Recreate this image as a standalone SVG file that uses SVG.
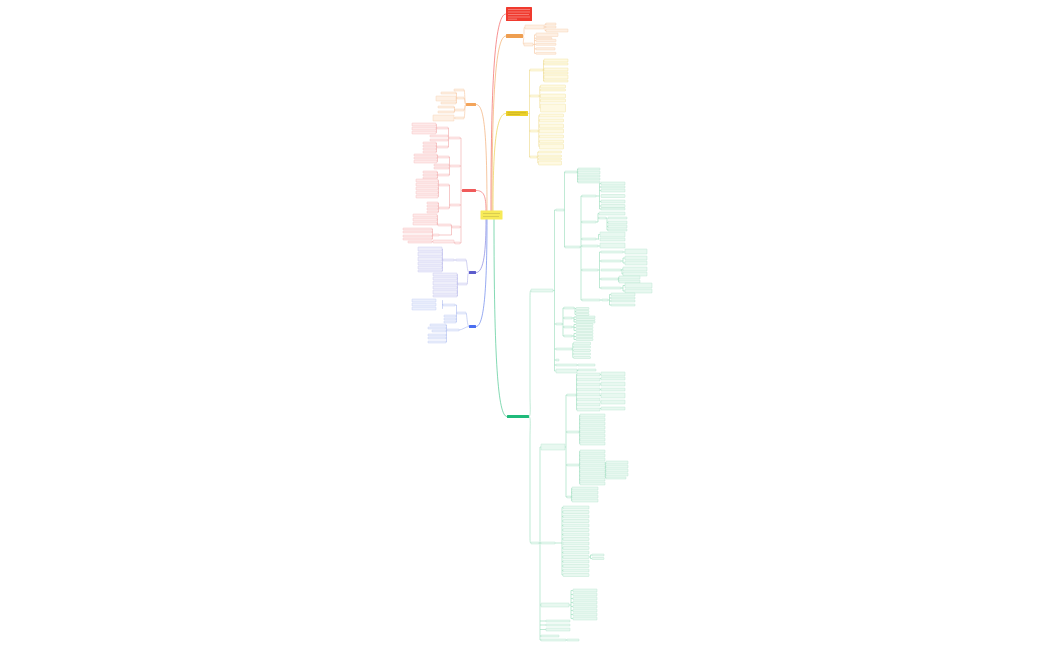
<svg xmlns="http://www.w3.org/2000/svg" width="1050" height="650" viewBox="0 0 1050 650">
<style>
rect{rx:.5px}
.o{fill:#fef0e4;stroke:#f6cba8;stroke-width:.4}
.y{fill:#fef9e2;stroke:#f0df96;stroke-width:.4}
.g{fill:#e8f8f0;stroke:#b0e3c9;stroke-width:.4}
.r{fill:#feeaea;stroke:#f3b8b8;stroke-width:.4}
.p{fill:#eeeefa;stroke:#c2c2ee;stroke-width:.4}
.b{fill:#ecf0fc;stroke:#bcc8f3;stroke-width:.4}
.c path{fill:none;stroke-width:.6}
.co{stroke:#f6c49c}.cy{stroke:#ecd886}.cg{stroke:#95dbb8}.cr{stroke:#f0a4a4}.cp{stroke:#b2b2ea}.cb{stroke:#aab9f0}
.main{fill:none;stroke-width:1}
.tl{stroke-width:.6;fill:none}
</style>
<rect width="1050" height="650" fill="#ffffff"/>
<g id="connectors" class="c">
<path class="main" stroke="#f04848" d="M491,211 C491,90 494,14 506,14"/>
<path class="main" stroke="#f0a050" d="M492,211 C492,90 496,36 506,36"/>
<path class="main" stroke="#e8c830" d="M493,211 C493,140 497,113.5 506,113.5"/>
<path class="main" stroke="#30c080" d="M494,219 C494,360 498,416.5 507,416.5"/>
<path class="main" stroke="#f0a060" d="M487,211 C487,130 484,104.5 476,104.5"/>
<path class="main" stroke="#f06060" d="M486,211 C486,196 484,190.5 476,190.5"/>
<path class="main" stroke="#7070d8" d="M486,219 C486,250 484,272.5 476,272.5"/>
<path class="main" stroke="#5070e8" d="M487,219 C487,290 484,326.5 476,326.5"/>
<path class="co" d="M523,36 C525,36 523,27 525,27 M523,36 C525,36 522,44.5 524,44.5 M544,27 H545 M545,24 V30.5 M545,24 H546 M545,27 H546 M545,30.5 H546 M533,44.5 H534.5 M534.5,34.8 V53.3 M534.5,34.8 H536 M534.5,38.2 H536 M534.5,40.5 H536 M534.5,44.3 H536 M534.5,48.8 H536 M534.5,53.3 H536"/>
<path class="cy" d="M528,113.5 H529.5 M529.5,70 V157 M529.5,70 H530 M529.5,96 H530 M529.5,131 H530 M529.5,157 H530 M543,70 H543.5 M543.5,60.5 V81 M543.5,60.5 H544 M543.5,64 H544 M543.5,69.5 H544 M543.5,73 H544 M543.5,77 H544 M543.5,81 H544 M539,96 H539.8 M539.8,86.5 V108 M539.8,86.5 H540.5 M539.8,90 H540.5 M539.8,96 H540.5 M539.8,100.5 H540.5 M539.8,108 H540.5 M538,131 H538.8 M538.8,115.5 V146.5 M538.8,115.5 H539.5 M538.8,120.5 H539.5 M538.8,126 H539.5 M538.8,136.5 H539.5 M538.8,141.5 H539.5 M538.8,146.5 H539.5 M537,157 H537.8 M537.8,152 V163 M537.8,152 H538.5 M537.8,156 H538.5 M537.8,159 H538.5 M537.8,163 H538.5"/>
<path class="cg" d="M529,416.5 C531,416.5 530,405 530,395 V300 C530,293 530,290.5 531,290.5 M529,416.5 C531,416.5 530,428 530,438 V535 C530,541 530,543 531,543"/>
<path class="cg" d="M553,290.5 H554.5 M554.5,210 V371 M554.5,210 H556 M554.5,324 H556 M554.5,349 H556 M554.5,360 H556 M554.5,365 H556 M554.5,371 H556"/>
<path class="cg" d="M564,210 H564.5 M564.5,172 V247 M564.5,172 H565 M564.5,247 H565 M577,172 H577.5 M577.5,169 V182 M577.5,169 H578 M577.5,172.5 H578 M577.5,176 H578 M577.5,179 H578 M577.5,182 H578"/>
<path class="cg" d="M580,247 H581 M581,196 V300 M581,196 H582 M581,222 H582 M581,239 H582 M581,246 H582 M581,270 H582 M581,300 H582"/>
<path class="cg" d="M596,196 H599.5 M599.5,183.5 V209 M599.5,183.5 H601 M599.5,187 H601 M599.5,190.5 H601 M599.5,201.5 H601 M599.5,206 H601 M599.5,209 H601 M596,222 H598 M598,213.5 V222 M598,213.5 H599 M598,218 H599 M606,218 H607 M607,218 V230 M607,222.5 H608 M607,226.5 H608 M607,230 H608 M596,239 H598.5 M598.5,234.5 V239.5 M598.5,234.5 H600 M598,246 H600"/>
<path class="cg" d="M598,270 H599.5 M599.5,252 V288 M599.5,252 H601 M599.5,261 H601 M599.5,279 H601 M599.5,288 H601 M623,252 H625 M621,261 H623 M623,258 V263 M623,258 H625 M623,263 H625 M621,270 H622 M622,269 V274 M622,269 H623 M622,274 H623 M618,279 H618.5 M618.5,277.5 V281.5 M618.5,277.5 H619 M618.5,281.5 H619 M621,288 H623 M623,285.5 V291 M623,285.5 H625 M623,291 H625"/>
<path class="cg" d="M600,300 H602 M608,300 H609.5 M609.5,294.5 V305 M609.5,294.5 H611 M609.5,298 H611 M609.5,301 H611 M609.5,305 H611"/>
<path class="cg" d="M562,324 H563 M563,308 V336 M563,308 H564 M563,318 H564 M563,327 H564 M563,336 H564 M574,308 H575 M575,308.5 V314.5 M575,308.5 H576 M575,311.5 H576 M575,314.5 H576 M572,318 H574 M574,317 V322 M574,317 H576 M574,319.5 H576 M574,322 H576 M572,327 H574 M574,324.5 V330.5 M574,324.5 H576 M574,327.5 H576 M574,330.5 H576 M572,336 H574 M574,333.5 V339.5 M574,333.5 H576 M574,336.5 H576 M574,339.5 H576"/>
<path class="cg" d="M572,349 H572.8 M572.8,343.5 V357.5 M572.8,343.5 H573.5 M572.8,347 H573.5 M572.8,350.5 H573.5 M572.8,354 H573.5 M572.8,357.5 H573.5 M577,365 H578 M577,371 H577.5 V370 H578"/>
<path class="cg" d="M539,543 H540 M540,447 V640 M540,447 H541 M540,543 H541 M540,605 H541 M540,636 H541 M540,640 H541 M540,621 H546 M540,625 H546 M540,629.5 H546"/>
<path class="cg" d="M565,447 H566 M566,395 V497 M566,395 H567 M566,432 H567 M566,465 H567 M566,497 H567 M576,395 H576.5 M576.5,374.5 V409.5 M576.5,374.5 H577 M576.5,379.5 H577 M576.5,384.5 H577 M576.5,389.5 H577 M576.5,399.5 H577 M576.5,404.5 H577 M576.5,409.5 H577 M600,374.5 H601 M600,378.5 H601 M600,384 H601 M600,389.5 H601 M600,395.5 H601 M600,402 H601 M600,408.5 H601"/>
<path class="cg" d="M579,432 H579.5 M579.5,415.5 V443.5 M579.5,415.5 H580 M579.5,419.5 H580 M579.5,423.5 H580 M579.5,427.5 H580 M579.5,431.5 H580 M579.5,435.5 H580 M579.5,439.5 H580 M579.5,443.5 H580 M579,465 H579.5 M579.5,451.5 V483.5 M579.5,451.5 H580 M579.5,455.5 H580 M579.5,459.5 H580 M579.5,463.5 H580 M579.5,467.5 H580 M579.5,471.5 H580 M579.5,475.5 H580 M579.5,479.5 H580 M579.5,483.5 H580 M605,467.5 H605.5 M605.5,462.5 V478 M605.5,462.5 H606 M605.5,466.5 H606 M605.5,470.5 H606 M605.5,474.5 H606 M605.5,478 H606 M571,497 H571.5 M571.5,488.5 V500.5 M571.5,488.5 H572 M571.5,492.5 H572 M571.5,496.5 H572 M571.5,500.5 H572"/>
<path class="cg" d="M555,543 H562 M562,507.5 V575 M562,507.5 H563 M562,512 H563 M562,516.5 H563 M562,521 H563 M562,525.5 H563 M562,530 H563 M562,534.5 H563 M562,539 H563 M562,548 H563 M562,552.5 H563 M562,557 H563 M562,561.5 H563 M562,566 H563 M562,570.5 H563 M562,575 H563 M589,557 H590.5 M590.5,555 V558.5 M590.5,555 H592 M590.5,558.5 H592"/>
<path class="cg" d="M569,605 H571 M571,590.5 V618.5 M571,590.5 H573 M571,594.5 H573 M571,598.5 H573 M571,602.5 H573 M571,606.5 H573 M571,610.5 H573 M571,614.5 H573 M571,618.5 H573 M566,640 H567"/>
<path class="co" d="M466,104.5 C464.5,104.5 465,90 464,90 M466,104.5 C464.5,104.5 465,98 464,98 M466,104.5 C464.5,104.5 465,110 464,110 M466,104.5 C464.5,104.5 465,118 464,118 M457,98 H456.5 M456.5,93 V103 M456.5,93 H456 M456.5,103 H456 M455,110 H454.5 M454.5,107 V112 M454.5,107 H454 M454.5,112 H454 M455,118 H454"/>
<path class="cr" d="M462,190.5 H461 M461,138 V243 M461,138 H460 M461,166 H460 M461,205 H460 M461,227 H460 M461,243 H460"/>
<path class="cr" d="M449,138 H448.5 M448.5,128 V147 M448.5,128 H448 M448.5,136 H448 M448.5,140 H448 M448.5,147 H448 M437,128 H436.5 M436.5,124.5 V132.5 M436.5,124.5 H436 M436.5,132.5 H436 M437,147 H436.5 M436.5,143 V152 M436.5,143 H436 M436.5,146 H436 M436.5,149 H436 M436.5,152 H436"/>
<path class="cr" d="M450,166 H449.5 M449.5,157 V175 M449.5,157 H449 M449.5,165 H449 M449.5,168 H449 M449.5,175 H449 M438,157 H437.5 M437.5,155 V161.5 M437.5,155 H437 M437.5,161.5 H437 M438,175 H437.5 M437.5,172 V178 M437.5,172 H437 M437.5,178 H437"/>
<path class="cr" d="M450,205 H449.5 M449.5,185 V208 M449.5,185 H449 M449.5,208 H449 M439,185 H438.5 M438.5,180.5 V196.5 M438.5,180.5 H438 M438.5,188.5 H438 M438.5,192.5 H438 M438.5,196.5 H438 M439,208 H438.5 M438.5,203 V212 M438.5,203 H438 M438.5,206 H438 M438.5,212 H438"/>
<path class="cr" d="M452,227 H451.5 M451.5,225 V235 M451.5,225 H451 M451.5,235 H439 M438,225 H437.5 M437.5,215.5 V225 M437.5,215.5 H437 M437.5,219.5 H437 M437.5,223.5 H437 M433,235 H432.5 M432.5,229 V239 M432.5,229 H432 M432.5,232 H432 M432.5,236 H432 M432.5,239 H432 M455,243 H454 V241.5 M433,241.5 H432"/>
<path class="cp" d="M469,272.5 C467,272.5 467,260 466,260 M469,272.5 C467,272.5 468,284 467,284 M456,260 H454 M443,260 H442.5 M442.5,249 V271 M442.5,249 H442 M442.5,254 H442 M442.5,259 H442 M442.5,263.5 H442 M442.5,267.5 H442 M442.5,271 H442 M458,284 H457.5 M457.5,274.5 V296 M457.5,274.5 H457 M457.5,278.5 H457 M457.5,283 H457 M457.5,287.5 H457 M457.5,292 H457 M457.5,296 H457"/>
<path class="cb" d="M469,326.5 C467,326.5 467,313 466,313 M469,326.5 C466,326.5 462,330 459,330 M457,313 H456.5 M456.5,305 V322 M456.5,305 H455 M456.5,316 H456 M456.5,319 H456 M456.5,322 H456 M443,305 H442.5 M442.5,300.5 V308.5 M442.5,300.5 H442 M442.5,304.5 H442 M442.5,308.5 H442 M447,330 H446.5 M446.5,325 V342 M446.5,325 H446 M446.5,328 H446 M446.5,331 H446 M446.5,335 H446 M446.5,338 H446 M446.5,342 H446"/>
</g>
<g id="center">
<rect x="480.5" y="210.5" width="22" height="9" fill="#f7ea57"/>
<path class="tl" stroke="#8a8040" stroke-opacity=".45" d="M483,213.5 H500 M483,216.5 H499"/>
</g>
<g id="node-red-top">
<rect x="506" y="7" width="26" height="14" fill="#f03a2e"/>
<path class="tl" stroke="#ffffff" stroke-opacity=".55" d="M508,9.5 H530 M508,12 H530 M508,14.5 H529 M508,17 H530 M508,19.2 H517"/>
</g>
<g id="node-orange">
<rect x="506" y="34" width="17" height="4" fill="#ee9e50"/>
<rect class="o" x="525" y="25" width="19" height="4"/>
<rect class="o" x="524" y="43" width="9" height="3"/>
<rect class="o" x="546" y="23" width="10" height="2"/>
<rect class="o" x="546" y="26" width="10" height="2"/>
<rect class="o" x="546" y="29" width="22" height="3"/>
<rect class="o" x="536" y="33" width="22" height="3.5"/>
<rect class="o" x="536" y="37.5" width="16" height="1.5"/>
<rect class="o" x="536" y="39.3" width="20" height="2.5"/>
<rect class="o" x="536" y="43.3" width="20" height="2"/>
<rect class="o" x="536" y="47.7" width="19" height="2.3"/>
<rect class="o" x="536" y="52.3" width="20" height="2"/>
</g>
<g id="node-yellow">
<rect x="506" y="111" width="22" height="5" fill="#ecd12a"/>
<path class="tl" stroke="#7a6a10" stroke-opacity=".35" d="M507.5,112.7 H526 M507.5,114.5 H520"/>
<rect class="y" x="530" y="69" width="13" height="2"/>
<rect class="y" x="530" y="95" width="9" height="2"/>
<rect class="y" x="530" y="130" width="8" height="2"/>
<rect class="y" x="530" y="156" width="7" height="2"/>
<rect class="y" x="544" y="59" width="24" height="3"/>
<rect class="y" x="544" y="63" width="24" height="2"/>
<rect class="y" x="544" y="68" width="24" height="3"/>
<rect class="y" x="544" y="72" width="24" height="2"/>
<rect class="y" x="544" y="75" width="24" height="4"/>
<rect class="y" x="544" y="80" width="24" height="2"/>
<rect class="y" x="540.5" y="85" width="25" height="3"/>
<rect class="y" x="540.5" y="89" width="25" height="2"/>
<rect class="y" x="540.5" y="94" width="25" height="4"/>
<rect class="y" x="540.5" y="99" width="25" height="3"/>
<rect class="y" x="540.5" y="104" width="25" height="8"/>
<rect class="y" x="539.5" y="114" width="24" height="3"/>
<rect class="y" x="539.5" y="119" width="24" height="3"/>
<rect class="y" x="539.5" y="124" width="24" height="4"/>
<rect class="y" x="539.5" y="129" width="24" height="4"/>
<rect class="y" x="539.5" y="135" width="24" height="3"/>
<rect class="y" x="539.5" y="140" width="24" height="3"/>
<rect class="y" x="539.5" y="144" width="24" height="5"/>
<rect class="y" x="538.5" y="151" width="23" height="2"/>
<rect class="y" x="538.5" y="155" width="23" height="2"/>
<rect class="y" x="538.5" y="158" width="23" height="2"/>
<rect class="y" x="538.5" y="161" width="23" height="4"/>
</g>
<g id="node-green">
<rect x="507" y="415" width="22" height="3" fill="#1fba7a"/>
<rect class="g" x="531" y="289" width="22" height="3"/>
<rect class="g" x="531" y="542" width="8" height="2"/>
<rect class="g" x="556" y="209" width="8" height="2"/>
<rect class="g" x="565" y="171" width="12" height="2"/>
<rect class="g" x="578" y="168" width="22" height="2"/>
<rect class="g" x="578" y="171" width="22" height="3"/>
<rect class="g" x="578" y="175" width="22" height="2"/>
<rect class="g" x="578" y="178" width="22" height="2"/>
<rect class="g" x="578" y="181" width="22" height="2"/>
<rect class="g" x="565" y="246" width="15" height="2"/>
<rect class="g" x="582" y="195" width="14" height="2"/>
<rect class="g" x="582" y="221" width="14" height="2"/>
<rect class="g" x="582" y="238" width="14" height="2"/>
<rect class="g" x="582" y="245" width="16" height="2"/>
<rect class="g" x="582" y="269" width="16" height="2"/>
<rect class="g" x="582" y="299" width="18" height="2"/>
<rect class="g" x="601" y="182" width="24" height="3"/>
<rect class="g" x="601" y="186" width="24" height="2"/>
<rect class="g" x="601" y="189" width="24" height="3"/>
<rect class="g" x="601" y="194.5" width="24" height="3"/>
<rect class="g" x="601" y="200" width="24" height="3"/>
<rect class="g" x="601" y="204.5" width="24" height="3"/>
<rect class="g" x="601" y="208" width="24" height="2"/>
<rect class="g" x="599" y="212" width="26" height="3"/>
<rect class="g" x="599" y="217" width="7" height="2"/>
<rect class="g" x="608" y="217" width="19" height="2"/>
<rect class="g" x="608" y="221" width="19" height="3"/>
<rect class="g" x="608" y="225" width="19" height="3"/>
<rect class="g" x="608" y="229" width="19" height="2"/>
<rect class="g" x="600" y="232" width="25" height="5"/>
<rect class="g" x="600" y="238" width="25" height="3"/>
<rect class="g" x="600" y="243" width="25" height="5"/>
<rect class="g" x="601" y="251" width="22" height="2"/>
<rect class="g" x="601" y="260" width="20" height="2"/>
<rect class="g" x="601" y="269" width="20" height="2"/>
<rect class="g" x="601" y="278" width="17" height="2"/>
<rect class="g" x="601" y="287" width="20" height="2"/>
<rect class="g" x="625" y="249" width="22" height="5"/>
<rect class="g" x="625" y="256" width="22" height="4"/>
<rect class="g" x="625" y="261" width="22" height="4"/>
<rect class="g" x="623" y="267" width="24" height="4"/>
<rect class="g" x="623" y="272" width="24" height="4"/>
<rect class="g" x="619" y="276" width="21" height="3"/>
<rect class="g" x="619" y="280" width="21" height="3"/>
<rect class="g" x="625" y="283" width="27" height="5"/>
<rect class="g" x="625" y="289" width="27" height="4"/>
<rect class="g" x="602" y="299" width="6" height="2"/>
<rect class="g" x="611" y="293" width="24" height="3"/>
<rect class="g" x="611" y="297" width="24" height="2"/>
<rect class="g" x="611" y="300" width="24" height="2"/>
<rect class="g" x="611" y="304" width="24" height="2"/>
<rect class="g" x="556" y="323" width="6" height="2"/>
<rect class="g" x="564" y="307" width="10" height="2"/>
<rect class="g" x="564" y="317" width="8" height="2"/>
<rect class="g" x="564" y="326" width="8" height="2"/>
<rect class="g" x="564" y="335" width="8" height="2"/>
<rect class="g" x="576" y="307.5" width="13" height="2"/>
<rect class="g" x="576" y="310.5" width="13" height="2"/>
<rect class="g" x="576" y="313.5" width="13" height="2"/>
<rect class="g" x="576" y="316" width="19" height="2"/>
<rect class="g" x="576" y="318.5" width="19" height="2"/>
<rect class="g" x="576" y="321" width="19" height="2"/>
<rect class="g" x="576" y="323.5" width="17" height="2"/>
<rect class="g" x="576" y="326.5" width="17" height="2"/>
<rect class="g" x="576" y="329.5" width="17" height="2"/>
<rect class="g" x="576" y="332.5" width="17" height="2"/>
<rect class="g" x="576" y="335.5" width="17" height="2"/>
<rect class="g" x="576" y="338.5" width="17" height="2"/>
<rect class="g" x="556" y="348" width="16" height="2"/>
<rect class="g" x="573.5" y="342" width="17" height="3"/>
<rect class="g" x="573.5" y="346" width="17" height="2"/>
<rect class="g" x="573.5" y="349.5" width="17" height="2"/>
<rect class="g" x="573.5" y="353" width="17" height="2"/>
<rect class="g" x="573.5" y="356.5" width="17" height="2"/>
<rect class="g" x="556" y="359" width="3" height="2"/>
<rect class="g" x="556" y="364" width="21" height="2"/>
<rect class="g" x="578" y="364" width="17" height="2"/>
<rect class="g" x="556" y="369" width="21" height="4"/>
<rect class="g" x="578" y="369" width="18" height="2"/>
<rect class="g" x="541" y="444" width="24" height="6"/>
<rect class="g" x="567" y="394" width="9" height="2"/>
<rect class="g" x="577" y="373" width="23" height="3"/>
<rect class="g" x="577" y="378" width="23" height="3"/>
<rect class="g" x="577" y="383" width="23" height="3"/>
<rect class="g" x="577" y="388" width="23" height="3"/>
<rect class="g" x="577" y="393" width="23" height="3"/>
<rect class="g" x="577" y="398" width="23" height="3"/>
<rect class="g" x="577" y="403" width="23" height="3"/>
<rect class="g" x="577" y="408" width="23" height="3"/>
<rect class="g" x="601" y="372" width="24" height="4"/>
<rect class="g" x="601" y="377" width="24" height="3"/>
<rect class="g" x="601" y="382" width="24" height="4"/>
<rect class="g" x="601" y="388" width="24" height="3"/>
<rect class="g" x="601" y="393" width="24" height="5"/>
<rect class="g" x="601" y="400" width="24" height="4"/>
<rect class="g" x="601" y="407" width="24" height="3"/>
<rect class="g" x="567" y="431" width="12" height="2"/>
<rect class="g" x="580" y="414" width="25" height="3"/>
<rect class="g" x="580" y="418" width="25" height="3"/>
<rect class="g" x="580" y="422" width="25" height="3"/>
<rect class="g" x="580" y="426" width="25" height="3"/>
<rect class="g" x="580" y="430" width="25" height="3"/>
<rect class="g" x="580" y="434" width="25" height="3"/>
<rect class="g" x="580" y="438" width="25" height="3"/>
<rect class="g" x="580" y="442" width="25" height="3"/>
<rect class="g" x="567" y="464" width="12" height="2"/>
<rect class="g" x="580" y="450" width="25" height="3"/>
<rect class="g" x="580" y="454" width="25" height="3"/>
<rect class="g" x="580" y="458" width="25" height="3"/>
<rect class="g" x="580" y="462" width="25" height="3"/>
<rect class="g" x="580" y="466" width="25" height="3"/>
<rect class="g" x="580" y="470" width="25" height="3"/>
<rect class="g" x="580" y="474" width="25" height="3"/>
<rect class="g" x="580" y="478" width="25" height="3"/>
<rect class="g" x="580" y="482" width="25" height="3"/>
<rect class="g" x="606" y="461" width="22" height="3"/>
<rect class="g" x="606" y="465" width="22" height="3"/>
<rect class="g" x="606" y="469" width="22" height="3"/>
<rect class="g" x="606" y="473" width="22" height="3"/>
<rect class="g" x="606" y="477" width="20" height="2"/>
<rect class="g" x="567" y="496" width="4" height="2"/>
<rect class="g" x="572" y="487" width="26" height="3"/>
<rect class="g" x="572" y="491" width="26" height="3"/>
<rect class="g" x="572" y="495" width="26" height="3"/>
<rect class="g" x="572" y="499" width="26" height="3"/>
<rect class="g" x="541" y="542" width="14" height="2"/>
<rect class="g" x="563" y="506" width="26" height="3"/>
<rect class="g" x="563" y="510.5" width="26" height="3"/>
<rect class="g" x="563" y="515" width="26" height="3"/>
<rect class="g" x="563" y="519.5" width="26" height="3"/>
<rect class="g" x="563" y="524" width="26" height="3"/>
<rect class="g" x="563" y="528.5" width="26" height="3"/>
<rect class="g" x="563" y="533" width="26" height="3"/>
<rect class="g" x="563" y="537.5" width="26" height="3"/>
<rect class="g" x="563" y="542" width="26" height="3"/>
<rect class="g" x="563" y="546.5" width="26" height="3"/>
<rect class="g" x="563" y="551" width="26" height="3"/>
<rect class="g" x="563" y="555.5" width="26" height="3"/>
<rect class="g" x="563" y="560" width="26" height="3"/>
<rect class="g" x="563" y="564.5" width="26" height="3"/>
<rect class="g" x="563" y="569" width="26" height="3"/>
<rect class="g" x="563" y="573.5" width="26" height="3"/>
<rect class="g" x="592" y="554" width="12" height="2"/>
<rect class="g" x="592" y="557.5" width="12" height="2"/>
<rect class="g" x="541" y="603" width="28" height="4"/>
<rect class="g" x="573" y="589" width="24" height="3"/>
<rect class="g" x="573" y="593" width="24" height="3"/>
<rect class="g" x="573" y="597" width="24" height="3"/>
<rect class="g" x="573" y="601" width="24" height="3"/>
<rect class="g" x="573" y="605" width="24" height="3"/>
<rect class="g" x="573" y="609" width="24" height="3"/>
<rect class="g" x="573" y="613" width="24" height="3"/>
<rect class="g" x="573" y="617" width="24" height="3"/>
<rect class="g" x="546" y="620" width="24" height="2"/>
<rect class="g" x="546" y="624" width="24" height="2"/>
<rect class="g" x="546" y="628" width="24" height="3"/>
<rect class="g" x="541" y="635" width="18" height="2"/>
<rect class="g" x="541" y="639" width="25" height="2"/>
<rect class="g" x="567" y="639" width="12" height="2"/>
</g>
<g id="node-left-orange">
<rect x="466" y="103" width="10" height="3" fill="#f3a45a"/>
<rect class="o" x="454" y="89" width="10" height="2"/>
<rect class="o" x="457" y="97" width="7" height="2"/>
<rect class="o" x="455" y="109" width="9" height="2"/>
<rect class="o" x="455" y="117" width="9" height="2"/>
<rect class="o" x="441" y="92" width="15" height="2"/>
<rect class="o" x="436" y="96" width="20" height="5"/>
<rect class="o" x="441" y="102" width="15" height="2"/>
<rect class="o" x="438" y="106" width="16" height="2"/>
<rect class="o" x="438" y="111" width="16" height="2"/>
<rect class="o" x="433" y="115" width="21" height="6"/>
</g>
<g id="node-left-red">
<rect x="462" y="189" width="14" height="3" fill="#f05a5a"/>
<rect class="r" x="449" y="137" width="11" height="2"/>
<rect class="r" x="437" y="127" width="11" height="2"/>
<rect class="r" x="412" y="123" width="24" height="3"/>
<rect class="r" x="412" y="127" width="24" height="3"/>
<rect class="r" x="412" y="131" width="24" height="3"/>
<rect class="r" x="430" y="135" width="18" height="2"/>
<rect class="r" x="430" y="139" width="18" height="2"/>
<rect class="r" x="437" y="146" width="11" height="2"/>
<rect class="r" x="423" y="142" width="13" height="2"/>
<rect class="r" x="423" y="145" width="13" height="2"/>
<rect class="r" x="423" y="148" width="13" height="2"/>
<rect class="r" x="423" y="151" width="13" height="2"/>
<rect class="r" x="450" y="165" width="10" height="2"/>
<rect class="r" x="438" y="156" width="11" height="2"/>
<rect class="r" x="414" y="154" width="23" height="2"/>
<rect class="r" x="414" y="157" width="23" height="2"/>
<rect class="r" x="414" y="160" width="23" height="3"/>
<rect class="r" x="434" y="164" width="15" height="2"/>
<rect class="r" x="434" y="167" width="15" height="2"/>
<rect class="r" x="438" y="174" width="11" height="2"/>
<rect class="r" x="423" y="171" width="14" height="2"/>
<rect class="r" x="423" y="174" width="14" height="2"/>
<rect class="r" x="423" y="177" width="14" height="2"/>
<rect class="r" x="450" y="204" width="10" height="2"/>
<rect class="r" x="439" y="184" width="10" height="2"/>
<rect class="r" x="416" y="179" width="22" height="3"/>
<rect class="r" x="416" y="183" width="22" height="3"/>
<rect class="r" x="416" y="187" width="22" height="3"/>
<rect class="r" x="416" y="191" width="22" height="3"/>
<rect class="r" x="416" y="195" width="22" height="3"/>
<rect class="r" x="439" y="207" width="10" height="2"/>
<rect class="r" x="427" y="202" width="11" height="2"/>
<rect class="r" x="427" y="205" width="11" height="2"/>
<rect class="r" x="427" y="208" width="11" height="2"/>
<rect class="r" x="427" y="211" width="11" height="2"/>
<rect class="r" x="452" y="226" width="8" height="2"/>
<rect class="r" x="438" y="224" width="13" height="2"/>
<rect class="r" x="413" y="214" width="24" height="3"/>
<rect class="r" x="413" y="218" width="24" height="3"/>
<rect class="r" x="413" y="222" width="24" height="3"/>
<rect class="r" x="433" y="234" width="6" height="2"/>
<rect class="r" x="403" y="228" width="29" height="2"/>
<rect class="r" x="403" y="231" width="29" height="2"/>
<rect class="r" x="403" y="235" width="29" height="2"/>
<rect class="r" x="403" y="238" width="29" height="2"/>
<rect class="r" x="455" y="242" width="5" height="2"/>
<rect class="r" x="433" y="240" width="21" height="3"/>
<rect class="r" x="408" y="241" width="24" height="2"/>
</g>
<g id="node-purple">
<rect x="469" y="271" width="7" height="3" fill="#5c5ccc"/>
<rect class="p" x="456" y="259" width="10" height="2"/>
<rect class="p" x="443" y="259" width="11" height="2"/>
<rect class="p" x="418" y="247" width="24" height="4"/>
<rect class="p" x="418" y="252" width="24" height="4"/>
<rect class="p" x="418" y="257" width="24" height="4"/>
<rect class="p" x="418" y="262" width="24" height="3"/>
<rect class="p" x="418" y="266" width="24" height="3"/>
<rect class="p" x="418" y="270" width="24" height="2"/>
<rect class="p" x="458" y="283" width="9" height="2"/>
<rect class="p" x="433" y="273" width="24" height="3"/>
<rect class="p" x="433" y="277" width="24" height="3"/>
<rect class="p" x="433" y="281" width="24" height="4"/>
<rect class="p" x="433" y="286" width="24" height="3"/>
<rect class="p" x="433" y="290" width="24" height="4"/>
<rect class="p" x="433" y="295" width="24" height="2"/>
</g>
<g id="node-blue">
<rect x="469" y="325" width="7" height="3" fill="#4a6ef0"/>
<rect class="b" x="457" y="312" width="9" height="2"/>
<rect class="b" x="443" y="304" width="12" height="2"/>
<rect class="b" x="412" y="299" width="24" height="3"/>
<rect class="b" x="412" y="303" width="24" height="3"/>
<rect class="b" x="412" y="307" width="24" height="3"/>
<rect class="b" x="444" y="315" width="12" height="2"/>
<rect class="b" x="444" y="318" width="12" height="2"/>
<rect class="b" x="444" y="321" width="12" height="2"/>
<rect class="b" x="447" y="329" width="12" height="2"/>
<rect class="b" x="430" y="324" width="16" height="2"/>
<rect class="b" x="428" y="327" width="18" height="2"/>
<rect class="b" x="432" y="330" width="14" height="2"/>
<rect class="b" x="428" y="334" width="18" height="2"/>
<rect class="b" x="428" y="337" width="18" height="2"/>
<rect class="b" x="428" y="341" width="18" height="2"/>
</g>
</svg>
